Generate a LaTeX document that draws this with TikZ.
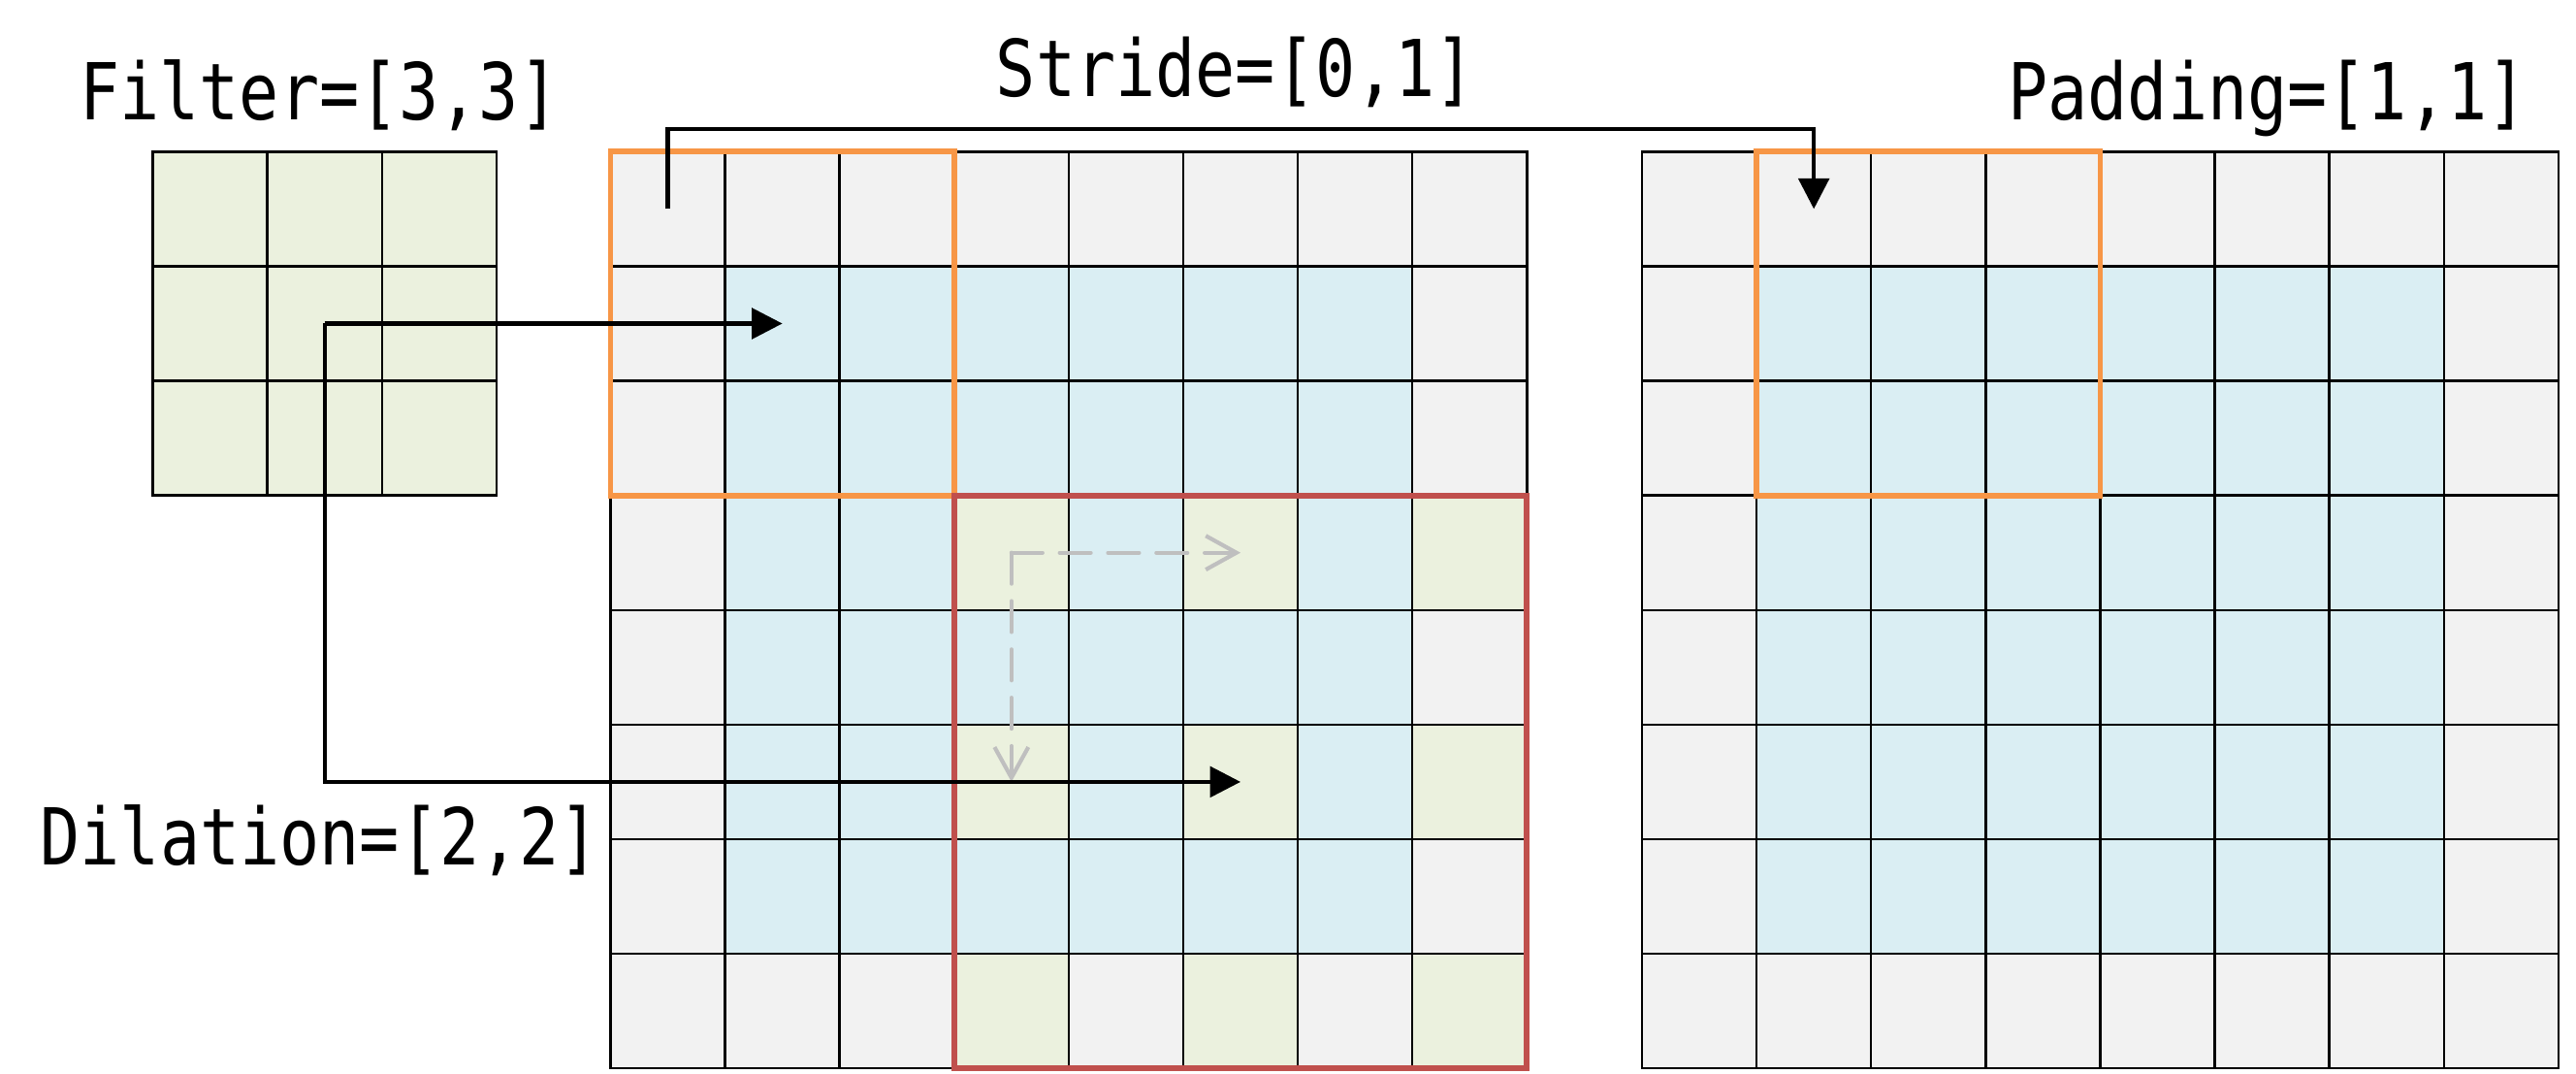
\documentclass[tikz,border=0pt]{standalone}
\usepackage{fontspec}
\usepackage{tikz}
\usetikzlibrary{arrows.meta, positioning, fit}
\newfontfamily\labelfont[FakeStretch=0.845]{DejaVu Sans Mono}
\definecolor{PadGray}{HTML}{F2F2F2}
\definecolor{InBlue}{HTML}{DAEEF3}
\definecolor{DilGreen}{HTML}{EBF1DE}
\definecolor{WinOrange}{HTML}{F79646}
\definecolor{WinRed}{HTML}{C0504D}
\definecolor{HintGray}{HTML}{BFBFBF}
\tikzset{
    cell/.style={
        rectangle,
        draw=black,
        minimum size=1cm,
        inner sep=0pt,
        outer sep=0pt,
        line width=0.6pt
    },
    window/.style={
        rectangle,
        inner sep=0pt,
        outer sep=0pt,
        line width=1.4pt
    },
    flatarrow/.style={
        -{Triangle[length=7.6pt, width=7.6pt]},
        draw=black,
        line width=1pt
    },
    hintarrow/.style={
        -{Straight Barb[length=7.6pt, width=8.4pt]},
        draw=HintGray,
        line width=1pt,
        dash pattern=on 7.7pt off 4.3pt,
        line cap=round
    },
    labeltext/.style={
        font=\labelfont\fontsize{19.5}{23}\selectfont,
        inner sep=0pt,
        anchor=base
    }
}

\begin{document}
\begin{tikzpicture}
    \useasboundingbox (0,0) rectangle (22.489,9.365);

    % Filter
    \foreach \r in {0,1,2} {
        \foreach \c in {0,1,2} {
            \node[cell, fill=DilGreen] (f-\r-\c) at (1.834+\c, 7.541-\r) {};
        }
    }

    % Input with padding
    \foreach \r in {0,...,7} {
        \foreach \c in {0,...,7} {
            \def\cellcol{PadGray}
            \ifnum\r>0 \ifnum\r<7 \ifnum\c>0 \ifnum\c<7 \def\cellcol{InBlue}\fi\fi\fi\fi
            \ifodd\r\relax \ifodd\c\relax \ifnum\r>2 \ifnum\c>2 \def\cellcol{DilGreen}\fi\fi\fi\fi
            \node[cell, fill=\cellcol] (m-\r-\c) at (5.830+\c, 7.541-\r) {};
        }
    }

    % Stride step
    \foreach \r in {0,...,7} {
        \foreach \c in {0,...,7} {
            \def\cellcol{PadGray}
            \ifnum\r>0 \ifnum\r<7 \ifnum\c>0 \ifnum\c<7 \def\cellcol{InBlue}\fi\fi\fi\fi
            \node[cell, fill=\cellcol] (p-\r-\c) at (14.835+\c, 7.541-\r) {};
        }
    }

    % Windows
    \node[window, draw=WinOrange, fit=(m-0-0)(m-2-2)] (win-in) {};
    \node[window, draw=WinRed, fit=(m-3-3)(m-7-7)] (win-dil) {};
    \node[window, draw=WinOrange, fit=(p-0-1)(p-2-3)] (win-out) {};

    % Labels
    \node[labeltext] (filterlbl) at (2.788,8.323) {Filter=[3,3]};
    \node[labeltext] (stridelbl) at (10.787,8.524) {Stride=[0,1]};
    \node[labeltext] (padlbl) at (19.796,8.323) {Padding=[1,1]};
    \node[labeltext] (dillbl) at (2.792,1.820) {Dilation=[2,2]};

    % Paths
    \draw[hintarrow] (m-3-3.center) -- (m-3-5.center);
    \draw[hintarrow] (m-3-3.center) -- (m-5-3.center);

    \draw[flatarrow] (f-1-1.center) -- (m-1-1.center);
    \draw[flatarrow] (f-1-1.center) |- (m-5-5.center);

    \draw[flatarrow] (m-0-0.center) -- ++(0,0.7) -| (p-0-1.center);

\end{tikzpicture}
\end{document}
